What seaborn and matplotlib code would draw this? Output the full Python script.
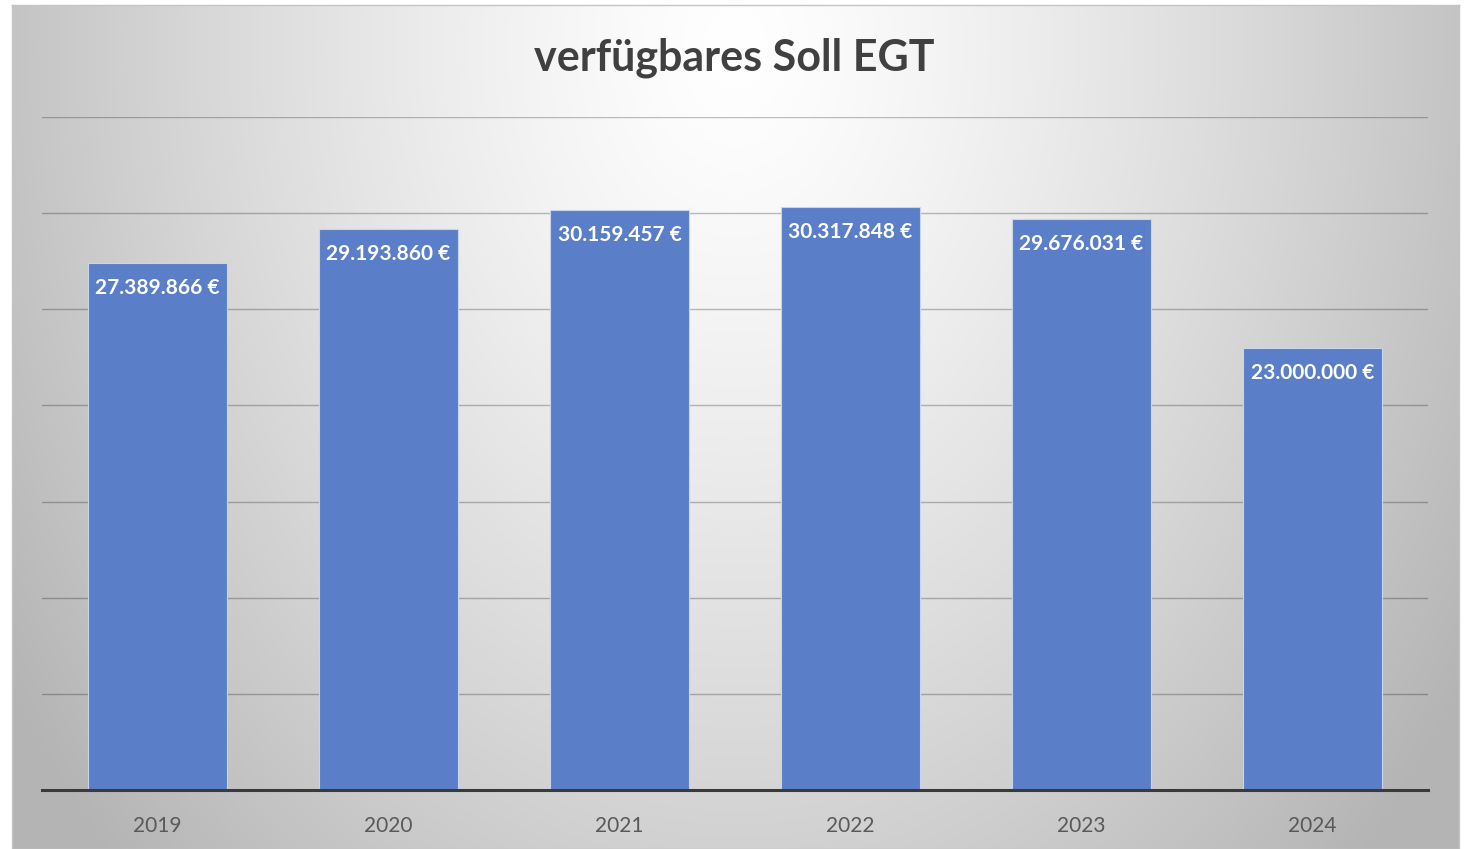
import numpy as np
import pandas as pd
import seaborn as sns
import matplotlib.pyplot as plt

# data
years = ["2019", "2020", "2021", "2022", "2023", "2024"]
values = [27389866, 29193860, 30159457, 30317848, 29676031, 23000000]

df = pd.DataFrame({"Jahr": years, "Soll": values})

sns.set_theme(style="white")
plt.rcParams["font.family"] = ["Lato", "DejaVu Sans"]

W, H = 1465, 849
fig = plt.figure(figsize=(W / 100, H / 100), dpi=100)
fig.patch.set_facecolor("white")

# radial gradient background of the chart area (white at top centre, grey at edges)
bg = fig.add_axes([12 / W, 0, (1459 - 12) / W, (849 - 5) / H])
bg.set_zorder(-1)
gx, gy = np.meshgrid(np.linspace(-1, 1, 600), np.linspace(0, 1, 350))
r = np.sqrt((gx / 1.0) ** 2 + ((gy - 0.05) / 1.15) ** 2)
shade = 1.0 - 0.23 * np.clip(r, 0, 1.2) ** 1.3
img = np.dstack([shade, shade, shade])
bg.imshow(img, aspect="auto", extent=[0, 1, 0, 1], origin="upper")
bg.set_xticks([])
bg.set_yticks([])
for s in bg.spines.values():
    s.set_edgecolor("#c4c4c4")
    s.set_linewidth(1)

# plot area
ax = fig.add_axes([42 / W, 59 / H, (1428 - 42) / W, (790 - 117) / H])
ax.set_facecolor("none")
sns.barplot(data=df, x="Jahr", y="Soll", color="#5a7ec7", width=0.6,
            saturation=1, edgecolor="#c7d5ee", linewidth=0.8, ax=ax, zorder=3)

ax.set_ylim(0, 35e6)
ax.set_xlim(-0.5, len(years) - 0.5)
ax.set_yticks(np.arange(5e6, 35e6 + 1, 5e6))
ax.set_yticklabels([])
ax.yaxis.grid(True, color="black", alpha=0.25, linewidth=1)
ax.set_axisbelow(True)
ax.tick_params(axis="both", length=0)
ax.tick_params(axis="x", labelsize=15, labelcolor="#595959", pad=19)
ax.set_xlabel("")
ax.set_ylabel("")
for side in ["top", "left", "right"]:
    ax.spines[side].set_visible(False)
ax.spines["bottom"].set_color("#3a3a3a")
ax.spines["bottom"].set_linewidth(2.2)
ax.spines["bottom"].set_zorder(4)

for i, v in enumerate(values):
    label = f"{v:,.0f}".replace(",", ".") + " €"
    ax.annotate(label, xy=(i, v), xytext=(0, -18), textcoords="offset points",
                ha="center", va="center", color="white", fontsize=15,
                fontweight="bold", zorder=5)

fig.text(734 / W, 1 - 58 / H, "verfügbares Soll EGT", ha="center", va="center",
         fontsize=31, fontweight="bold", color="#404040")

fig.savefig("out.png", dpi=100)
